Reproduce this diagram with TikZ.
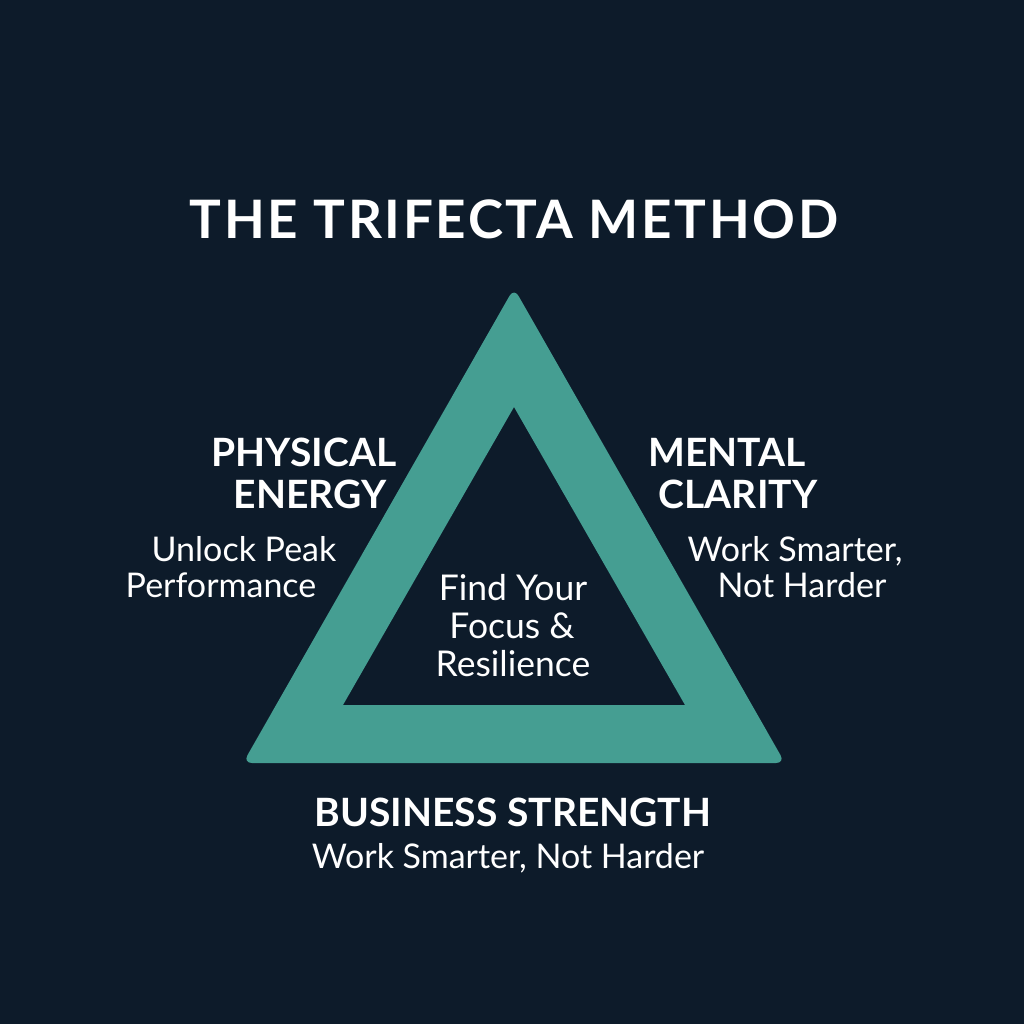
\documentclass[tikz,border=0pt]{standalone}
\usepackage{fontspec}
\setmainfont{Lato}
\definecolor{bgnavy}{RGB}{13,27,42}
\definecolor{teal}{RGB}{69,158,146}
\tikzset{
  head/.style={text=white, font=\bfseries\fontsize{39}{44}\selectfont, anchor=base, inner sep=0pt},
  body/.style={text=white, font=\fontsize{34}{38}\selectfont, anchor=base, inner sep=0pt},
  centretext/.style={text=white, font=\fontsize{35.5}{40}\selectfont, anchor=base, inner sep=0pt},
  titletext/.style={text=white, font=\bfseries\fontsize{53}{60}\selectfont\addfontfeatures{LetterSpace=5}, anchor=base, inner sep=0pt},
}
\begin{document}
\begin{tikzpicture}[x=1pt,y=-1pt]
\fill[bgnavy] (0,0) rectangle (1024,1024);
\useasboundingbox (0,0) rectangle (1024,1024);
% triangle band
\fill[teal, even odd rule, rounded corners=9pt]
  (514,288) -- (785,763) -- (243,763) -- cycle
  [sharp corners] (514,407) -- (343,705) -- (685,705) -- cycle;
% title
\node[titletext] (title) at (514,238) {THE TRIFECTA METHOD};
% left
\node[head] (pe1) at (304,466) {PHYSICAL};
\node[head] (pe2) at (310,508) {ENERGY};
\node[body] (pb1) at (244,561) {Unlock Peak};
\node[body] (pb2) at (221,597) {Performance};
% right
\node[head] (mc1) at (727,466) {MENTAL};
\node[head] (mc2) at (738,508) {CLARITY};
\node[body] (mb1) at (795,561) {Work Smarter,};
\node[body] (mb2) at (802,597) {Not Harder};
% centre
\node[centretext] (c1) at (513,600) {Find Your};
\node[centretext] (c2) at (512,638) {Focus \&};
\node[centretext] (c3) at (513,676) {Resilience};
% bottom
\node[head] (bs) at (513,826) {BUSINESS STRENGTH};
\node[body] (bb) at (508,868) {Work Smarter, Not Harder};
\end{tikzpicture}
\end{document}
